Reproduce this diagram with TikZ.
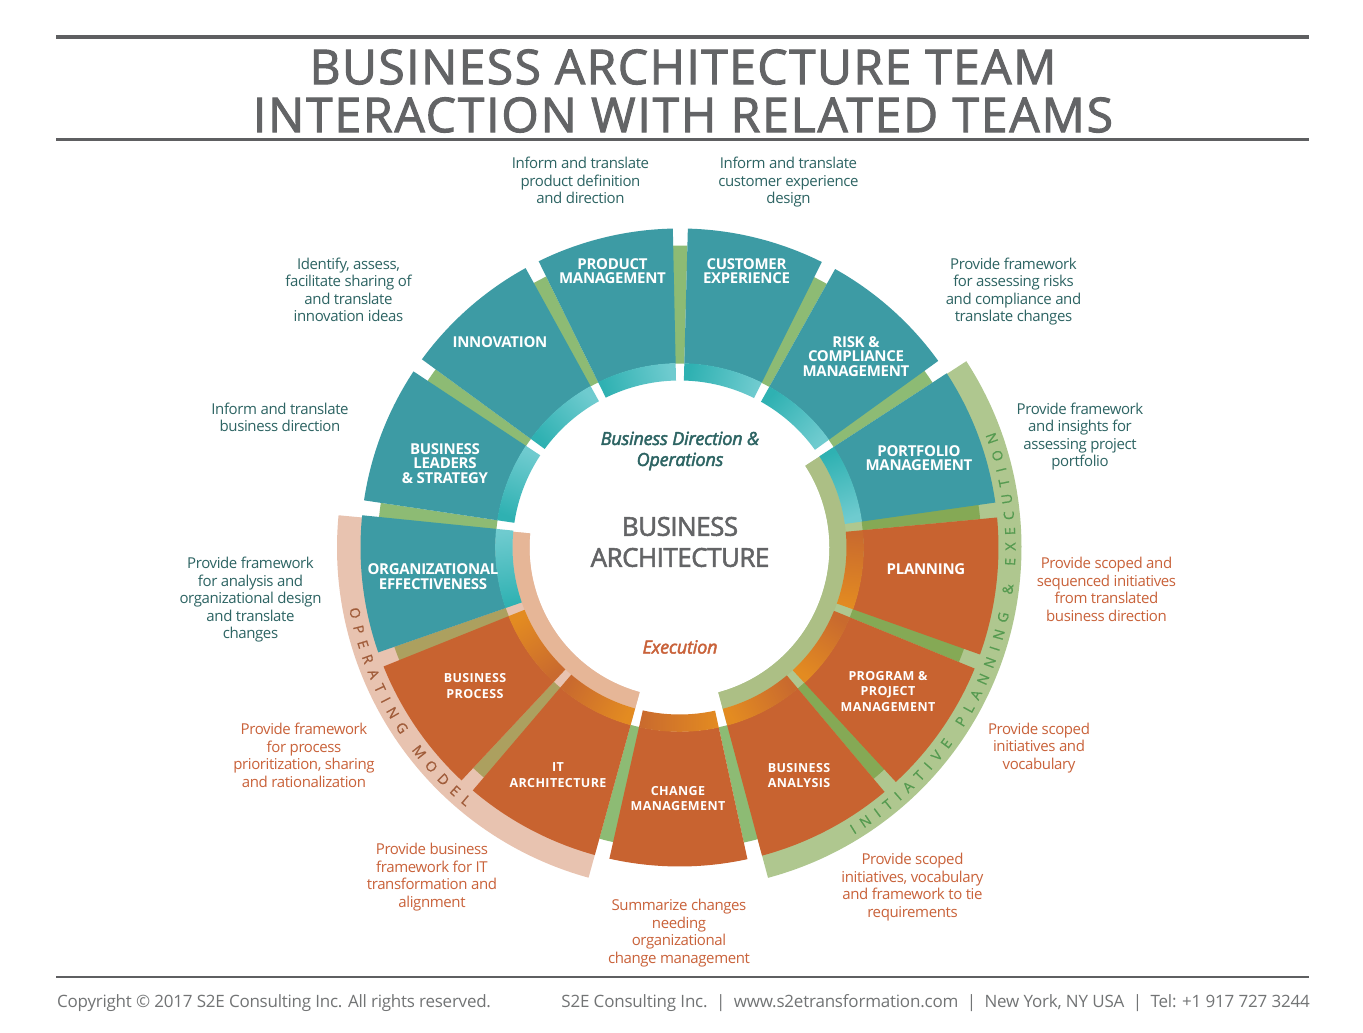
\documentclass[tikz,border=0pt]{standalone}
\usepackage{fontspec}
\setmainfont{Open Sans}
\newfontfamily\titlefont[FakeBold=2,LetterSpace=3]{Open Sans}
\newfontfamily\titlefontb[FakeBold=2,LetterSpace=3.8]{Open Sans}
\newfontfamily\centerfont[FakeBold=2,LetterSpace=-2]{Open Sans}
\newfontfamily\italfont[FakeBold=2.5,LetterSpace=-1]{Open Sans}
\newfontfamily\bodyfont[LetterSpace=-2.6]{Open Sans}
\newfontfamily\footfont[LetterSpace=-1.4]{Open Sans}
\newfontfamily\footfontb[LetterSpace=-1.2]{Open Sans}
\newfontfamily\teallabel[LetterSpace=-2]{Open Sans}
\newfontfamily\orangelabel[LetterSpace=3]{Open Sans}
\newfontfamily\arcfont[FakeBold=0.8]{Open Sans}
\definecolor{tealsec}{HTML}{3D9BA4}
\definecolor{orangesec}{HTML}{C86330}
\definecolor{teallight}{HTML}{6FCBCF}
\definecolor{tealdark}{HTML}{2FB1B2}
\definecolor{orbright}{HTML}{E38B21}
\definecolor{ordark}{HTML}{C96A2E}
\definecolor{barplain}{HTML}{8DBB74}
\definecolor{bardark}{HTML}{85A955}
\definecolor{barolive}{HTML}{ACA05F}
\definecolor{bandgreen}{HTML}{AFC78F}
\definecolor{ringgreen}{HTML}{ACBF85}
\definecolor{bandsalmon}{HTML}{E8C3B0}
\definecolor{ringsalmon}{HTML}{E6B697}
\definecolor{greytext}{HTML}{636466}
\definecolor{tealtext}{HTML}{2D6463}
\definecolor{orangetext}{HTML}{C9623A}
\definecolor{greenarc}{HTML}{559A50}
\definecolor{salmonarc}{HTML}{A05C3A}
\newcommand\ringseg[5][]{\path[#1] (#2:#4pt) arc[start angle=#2,end angle=#3,radius=#4pt] -- (#3:#5pt) arc[start angle=#3,end angle=#2,radius=#5pt] -- cycle;}
\newdimen\arcpos
\newcommand\arcword[5]{% start angle, radius, tracking, colour, letter/width list (width in em)
  \global\arcpos=0pt
  \foreach \ch/\w in {#5}{%
    \pgfmathsetmacro\ang{#1+(\arcpos+7*\w)/#2*57.29578}%
    \pgfmathsetmacro\adv{14*\w+#3}%
    \global\advance\arcpos by \adv pt
    \node[rotate=\ang+90,anchor=base,inner sep=0pt,text=#4,font=\arcfont\fontsize{14}{14}\selectfont] at (\ang:#2pt) {\ch};
  }}
\tikzset{
  desc/.style={align=center,inner sep=0pt,yshift=-2.7pt,font=\bodyfont\fontsize{15}{17.5}\selectfont,
    execute at begin node=\strut,execute at end node=\strut},
  tealdesc/.style={desc,text=tealtext},
  oradesc/.style={desc,text=orangetext},
  teallab/.style={align=center,inner sep=0pt,text=white,font=\teallabel\bfseries\fontsize{15}{14.5}\selectfont},
  oralab/.style={align=center,inner sep=0pt,text=white,font=\orangelabel\bfseries\fontsize{12.5}{15.5}\selectfont},
  rulebar/.style={fill=greytext!95!black},
}
\begin{document}
\begin{tikzpicture}[x=1pt,y=1pt]
\useasboundingbox (0,0) rectangle (1363,1033);
\fill[white] (0,0) rectangle (1363,1033);
% wheel, y up, centre at image (679.5,547.5)
\begin{scope}[shift={(679.5,485.5)}]
  \ringseg[fill=bandgreen]{-75}{33}{150}{342}
  \ringseg[fill=bandsalmon]{174.6}{254.6}{150}{342.5}
  \ringseg[fill=ringgreen]{-75}{33}{150}{167}
  \ringseg[fill=ringsalmon]{174.6}{254.6}{150}{167}
  % bars in the gaps
  \foreach \a/\c in {-50/bardark,-22.3/bardark,5.4/bardark,33.1/barplain,60.8/barplain,88.5/barplain,116.2/barplain,143.85/barplain,171.5/barplain,199.2/barolive,226.9/barolive,254.6/barplain,282.3/barplain}{
    \pgfmathsetmacro\b{\a+2.85}
    \ringseg[fill=\c]{\a}{\b}{184}{302}
  }
  % sectors: start angle / colour / bright at start / bright at end
  \foreach \a/\s/\p/\q in {-75/orangesec/orbright/ordark,-47.3/orangesec/orbright/ordark,-19.6/orangesec/orbright/ordark,8.1/tealsec/teallight/tealdark,35.8/tealsec/teallight/tealdark,63.5/tealsec/teallight/tealdark,91.2/tealsec/teallight/tealdark,118.85/tealsec/teallight/tealdark,146.5/tealsec/teallight/tealdark,174.2/tealsec/teallight/tealdark,201.9/orangesec/orbright/ordark,229.6/orangesec/ordark/orbright,257.3/orangesec/ordark/orbright}{
    \pgfmathsetmacro\b{\a+25}
    \pgfmathsetmacro\m{\a+12.5}
    \ringseg[fill=\s]{\a}{\b}{184}{319}
    \ringseg[top color=\q,bottom color=\p,shading angle=\m]{\a}{\b}{167}{184.3}
  }
  \arcword{190.5}{336}{7.5}{salmonarc}{O/0.78,P/0.6,E/0.556,R/0.62,A/0.633,T/0.553,I/0.28,N/0.76,G/0.73,{}/0.26,M/0.9,O/0.78,D/0.73,E/0.556,L/0.52}
  \arcword{-58.7}{336}{7.6}{greenarc}{I/0.28,N/0.76,I/0.28,T/0.553,I/0.28,A/0.633,T/0.553,I/0.28,V/0.6,E/0.556,{}/0.26,P/0.6,L/0.52,A/0.633,N/0.76,N/0.76,I/0.28,N/0.76,G/0.73,{}/0.26,\&/0.73,{}/0.26,E/0.556,X/0.577,E/0.556,C/0.63,U/0.73,T/0.553,I/0.28,O/0.78,N/0.76}
\end{scope}
% everything below in image coordinates
\begin{scope}[shift={(0,1033)},y=-1pt]
  \fill[rulebar] (56,35) rectangle (1309,39);
  \fill[rulebar] (56,138) rectangle (1309,141);
  \fill[rulebar] (56,976) rectangle (1309,978);
  \node[text=greytext,align=center,inner sep=0pt,font=\titlefont\fontsize{48}{48}\selectfont] (title) at (683,91) {BUSINESS ARCHITECTURE TEAM\\{\titlefontb INTERACTION WITH RELATED TEAMS}};
  % centre
  \node[text=tealtext,align=center,inner sep=0pt,font=\italfont\itshape\fontsize{18}{21}\selectfont] (bdo) at (680,451) {Business Direction \&\\Operations};
  \node[text=greytext,align=center,inner sep=0pt,font=\centerfont\fontsize{26}{31}\selectfont] (ba) at (680,542) {BUSINESS\\ARCHITECTURE};
  \node[text=orangetext,inner sep=0pt,font=\italfont\itshape\fontsize{18}{21}\selectfont] (exec) at (680,647) {Execution};
  % sector labels
  \node[teallab] (product) at (612.5,271) {PRODUCT\\MANAGEMENT};
  \node[teallab] (customer) at (746.5,271) {CUSTOMER\\EXPERIENCE};
  \node[teallab] (innovation) at (500,342) {INNOVATION};
  \node[teallab] (risk) at (856,356.5) {RISK \&\\COMPLIANCE\\MANAGEMENT};
  \node[teallab] (leaders) at (445,463.5) {BUSINESS\\LEADERS\\\& STRATEGY};
  \node[teallab] (portfolio) at (919,458) {PORTFOLIO\\MANAGEMENT};
  \node[teallab] (org) at (433,576.5) {ORGANIZATIONAL\\EFFECTIVENESS};
  \node[teallab] (planning) at (926,569) {PLANNING};
  \node[oralab] (process) at (475,686) {BUSINESS\\PROCESS};
  \node[oralab] (ppm) at (888,691.5) {PROGRAM \&\\PROJECT\\MANAGEMENT};
  \node[oralab] (it) at (558,775) {IT\\ARCHITECTURE};
  \node[oralab] (analysis) at (799,775.5) {BUSINESS\\ANALYSIS};
  \node[oralab] (change) at (678,798.5) {CHANGE\\MANAGEMENT};
  % descriptions
  \node[tealdesc] (d1) at (580.5,180.5) {Inform and translate\\product definition\\and direction};
  \node[tealdesc] (d2) at (788.5,180.5) {Inform and translate\\customer experience\\design};
  \node[tealdesc] (d3) at (348.5,289.5) {Identify, assess,\\facilitate sharing of\\and translate\\innovation ideas};
  \node[tealdesc] (d4) at (1013.5,289.5) {Provide framework\\for assessing risks\\and compliance and\\translate changes};
  \node[tealdesc] (d5) at (280,417) {Inform and translate\\business direction};
  \node[tealdesc] (d6) at (1080,434.5) {Provide framework\\and insights for\\assessing project\\portfolio};
  \node[tealdesc] (d7) at (250.5,598) {Provide framework\\for analysis and\\organizational design\\and translate\\changes};
  \node[oradesc] (d8) at (1106.5,589) {Provide scoped and\\sequenced initiatives\\from translated\\business direction};
  \node[oradesc] (d9) at (304,755) {Provide framework\\for process\\prioritization, sharing\\and rationalization};
  \node[oradesc] (d10) at (1039,746) {Provide scoped\\initiatives and\\vocabulary};
  \node[oradesc] (d11) at (432,875) {Provide business\\framework for IT\\transformation and\\alignment};
  \node[oradesc] (d12) at (912.5,885) {Provide scoped\\initiatives, vocabulary\\and framework to tie\\requirements};
  \node[oradesc] (d13) at (679,931) {Summarize changes\\needing\\organizational\\change management};
  % footer
  \node[anchor=base west,inner sep=0pt,text=greytext!90,font=\footfont\fontsize{17}{20}\selectfont] (copy) at (57,1007.5) {Copyright © 2017 S2E Consulting Inc. All rights reserved.};
  \node[anchor=base east,inner sep=0pt,text=greytext!90,font=\footfontb\fontsize{17}{20}\selectfont] (contact) at (1310,1007.5) {S2E Consulting Inc.\ \ |\ \ www.s2etransformation.com\ \ |\ \ New York, NY USA\ \ |\ \ Tel: +1 917 727 3244};
\end{scope}
\end{tikzpicture}
\end{document}
